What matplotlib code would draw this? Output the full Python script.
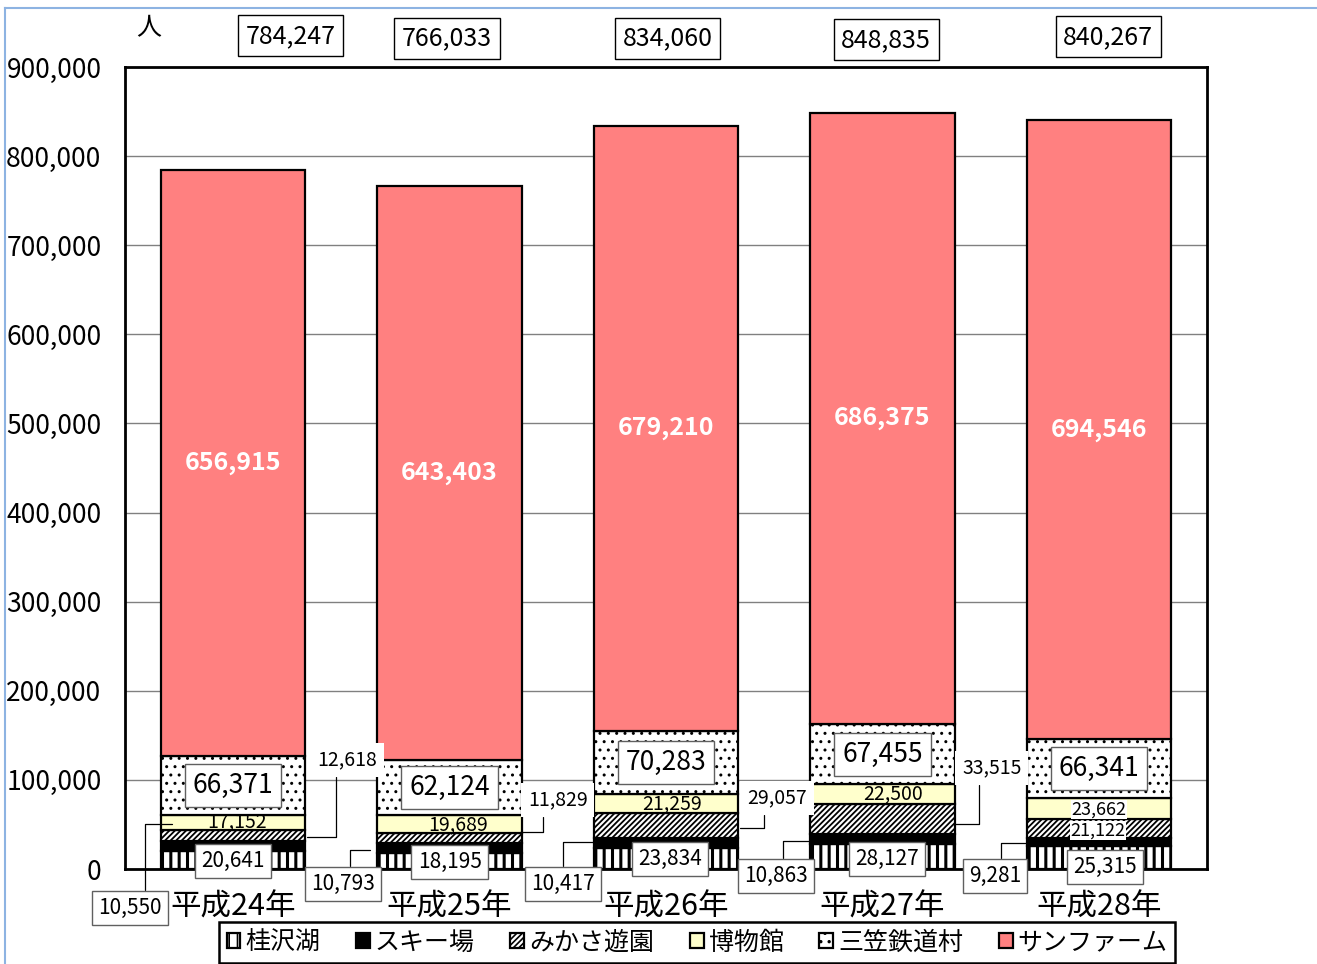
import matplotlib
matplotlib.use("Agg")
import matplotlib.pyplot as plt
from matplotlib.lines import Line2D
import numpy as np

plt.rcParams["font.family"] = ["Noto Sans CJK JP", "DejaVu Sans"]
plt.rcParams["hatch.linewidth"] = 1.2

# Data (visitors per facility, stacked bottom -> top)
years = ["平成24年", "平成25年", "平成26年", "平成27年", "平成28年"]
series_names = ["桂沢湖", "スキー場", "みかさ遊園", "博物館", "三笠鉄道村", "サンファーム"]
katsurazawa = [20641, 18195, 23834, 28127, 25315]
ski = [10550, 10793, 10417, 10863, 9281]
mikasa_yuen = [12618, 11829, 29057, 33515, 21122]
museum = [17152, 19689, 21259, 22500, 23662]
railway_village = [66371, 62124, 70283, 67455, 66341]
sun_farm = [656915, 643403, 679210, 686375, 694546]
yticks = [0, 100000, 200000, 300000, 400000, 500000, 600000, 700000, 800000, 900000]
unit_label = "人"

series = [katsurazawa, ski, mikasa_yuen, museum, railway_village, sun_farm]
totals = np.sum(series, axis=0)

# Styles
facecolors = ["white", "black", "white", "#FFFFCC", "white", "#FF8080"]
hatches = ["||", None, "//////", None, "..", None]
hatch_lw = [2.2, 1.0, 1.3, 1.0, 1.0, 1.0]

W, H = 1317, 964
fig = plt.figure(figsize=(W / 100, H / 100), dpi=100)
ax = fig.add_axes((125 / W, 95 / H, 1082 / W, 802 / H))

x = np.arange(len(years))
bottom = np.zeros(len(years))
containers = []
for vals, name, fc, ht, hl in zip(series, series_names, facecolors, hatches, hatch_lw):
    bc = ax.bar(x, vals, width=0.667, bottom=bottom, color=fc, edgecolor="black",
                linewidth=1.6, hatch=ht, label=name, zorder=2)
    for p in bc:
        if hasattr(p, "set_hatch_linewidth"):
            p.set_hatch_linewidth(hl)
    containers.append(bc)
    bottom = bottom + np.array(vals)

ax.set_xlim(-0.5, len(years) - 0.5)
ax.set_ylim(0, 900000)
ax.set_yticks(yticks, [f"{v:,}" for v in yticks], fontsize=19)
ax.set_xticks(x, years, fontsize=22)
ax.tick_params(axis="both", length=0)
ax.tick_params(axis="y", pad=17)
ax.tick_params(axis="x", pad=16)
ax.yaxis.grid(True, color="#808080", linewidth=1)
ax.set_axisbelow(True)
for s in ax.spines.values():
    s.set_linewidth(2)
    s.set_color("black")

# サンファーム labels (white bold, centred)
ax.bar_label(containers[5], labels=[f"{v:,}" for v in sun_farm], label_type="center",
             color="white", fontsize=18, fontweight="bold")
# 三笠鉄道村 labels (boxed, centred)
ax.bar_label(containers[4], labels=[f"{v:,}" for v in railway_village], label_type="center",
             fontsize=19, bbox=dict(boxstyle="square,pad=0.3", fc="white", ec="#606060", lw=1))

# 博物館 labels
museum_dx = [0.02, 0.04, 0.03, 0.05, 0.0]
museum_y = [52700, 49400, 72900, 84200, 66500]
for i, v in enumerate(museum):
    kw = {}
    if i == 4:
        kw["bbox"] = dict(boxstyle="square,pad=0.03", fc="white", ec="none")
    ax.text(i + museum_dx[i], museum_y[i], f"{v:,}", ha="center", va="center",
            fontsize=14 if i < 4 else 13, zorder=5, **kw)

# 桂沢湖 labels (boxed)
katsu_dx = [0.0, 0.0, 0.02, 0.02, 0.03]
katsu_y = [9000, 7900, 11200, 11200, 2300]
for i, v in enumerate(katsurazawa):
    ax.text(i + katsu_dx[i], katsu_y[i], f"{v:,}", ha="center", va="center", fontsize=15,
            zorder=5, clip_on=False,
            bbox=dict(boxstyle="square,pad=0.3", fc="white", ec="#606060", lw=1))

# スキー場 labels (boxed, below with leader lines)
ski_pos = [(-0.477, -43800), (0.508, -16800), (1.523, -16800), (2.508, -7900), (3.520, -7900)]
ski_target = [(-0.283, 50500), (0.632, 21300), (1.672, 30300), (2.665, 31400), (3.668, 29200)]
ski_rel = [0.74, 0.61, 0.5, 0.61, 0.62]
for i, v in enumerate(ski):
    ax.annotate(f"{v:,}", xy=ski_target[i], xytext=ski_pos[i], textcoords="data",
                ha="center", va="center", fontsize=15, annotation_clip=False, zorder=5,
                bbox=dict(boxstyle="square,pad=0.3", fc="white", ec="#606060", lw=1),
                arrowprops=dict(arrowstyle="-", color="black", lw=0.9, shrinkA=0, shrinkB=0,
                                relpos=(ski_rel[i], 1),
                                connectionstyle="angle,angleA=90,angleB=0,rad=0"))

# みかさ遊園 labels (leader lines, last one inside bar)
mik_pos = [(0.527, 122300), (1.500, 77400), (2.513, 79700), (3.506, 113300)]
mik_target = [(0.342, 35900), (1.325, 41500), (2.342, 46000), (3.335, 50500)]
mik_rel = [0.32, 0.26, 0.29, 0.28]
for i, (pos, tgt, rx) in enumerate(zip(mik_pos, mik_target, mik_rel)):
    ax.annotate(f"{mikasa_yuen[i]:,}", xy=tgt, xytext=pos, textcoords="data",
                ha="center", va="center", fontsize=14, zorder=5, annotation_clip=False,
                bbox=dict(boxstyle="square,pad=0.35", fc="white", ec="none"),
                arrowprops=dict(arrowstyle="-", color="black", lw=0.9, shrinkA=0, shrinkB=0,
                                relpos=(rx, 0),
                                connectionstyle="angle,angleA=90,angleB=0,rad=0"))
ax.text(3.995, 43500, f"{mikasa_yuen[4]:,}", ha="center", va="center", fontsize=13, zorder=5,
        bbox=dict(boxstyle="square,pad=0.03", fc="white", ec="none"))

# Totals above the plot
total_dx = [0.267, -0.012, 0.009, 0.017, 0.043]
total_y = [934800, 932500, 932500, 930300, 933700]
for i, t in enumerate(totals):
    ax.text(i + total_dx[i], total_y[i], f"{t:,}", ha="center", va="center", fontsize=18,
            clip_on=False,
            bbox=dict(boxstyle="square,pad=0.3", fc="white", ec="black", lw=1))

fig.text(149 / W, 1 - 28 / H, unit_label, ha="center", va="center", fontsize=18)

# Legend
leg = fig.legend(handles=containers, labels=series_names, ncol=6, loc="upper left",
                 bbox_to_anchor=(219 / W, 0, 956 / W, 1 - 922 / H), mode="expand",
                 borderaxespad=0, fontsize=18, handlelength=0.55, handleheight=0.55,
                 handletextpad=0.2, columnspacing=1.5, borderpad=0.3, fancybox=False,
                 edgecolor="black", framealpha=1)
leg.get_frame().set_linewidth(1.8)

# Outer frame (light blue)
fig.add_artist(Line2D([5 / W, 5 / W], [0, 1 - 8 / H], transform=fig.transFigure,
                      color="#8DB3E2", lw=1.5))
fig.add_artist(Line2D([5 / W, 1], [1 - 8 / H, 1 - 8 / H], transform=fig.transFigure,
                      color="#8DB3E2", lw=1.5))

fig.savefig("out.png", dpi=100)
